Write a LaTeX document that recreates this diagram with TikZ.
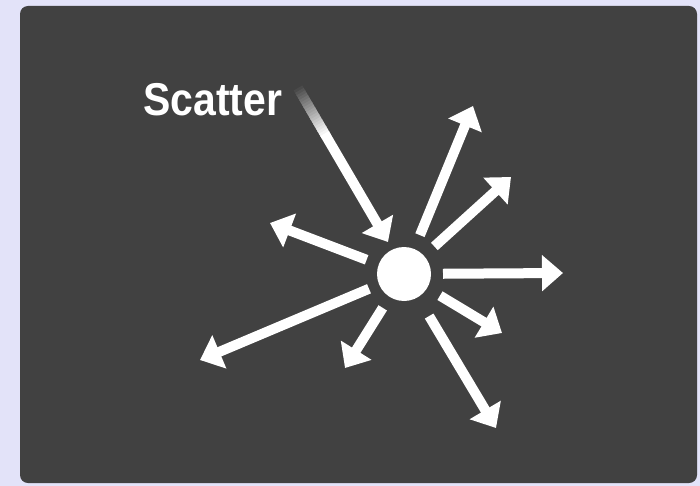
\documentclass[tikz,border=0pt]{standalone}
\usepackage{fontspec}
\setmainfont{Liberation Sans}
\usetikzlibrary{arrows.meta,calc}
\definecolor{bglav}{HTML}{E3E3F9}
\definecolor{panel}{HTML}{414141}
\tikzset{
  arr/.style={draw=white, line width=10pt, -{Triangle[width=35pt,length=21pt]}},
  fadeseg/.style={line width=10pt},
  dot/.style={circle, fill=white, inner sep=0pt, outer sep=0pt, minimum size=54pt},
  lbl/.style={text=white, inner sep=0pt, font=\fontsize{46}{46}\selectfont\bfseries}
}
\begin{document}
\begin{tikzpicture}[x=1pt,y=-1pt]
\fill[bglav] (0,0) rectangle (700,486);
\useasboundingbox (0,0) rectangle (700,486);
\fill[panel, rounded corners=8pt] (20,6) rectangle (697,483);
\node[dot] (c) at (404,274) {};
\node[lbl, anchor=base west, xscale=0.89] (scatter) at (143,116) {Scatter};
% incoming arrow with fading start
\coordinate (s) at (298,88);
\coordinate (m) at (326,136);
\coordinate (tin) at (388,242);
\foreach \i in {0,...,19}{
  \pgfmathsetmacro{\p}{5*(\i+1)}
  \pgfmathsetmacro{\a}{\i/20}
  \pgfmathsetmacro{\b}{(\i+1.3)/20}
  \draw[fadeseg, draw=white!\p!panel] ($(s)!\a!(m)$) -- ($(s)!\b!(m)$);
}
\draw[arr] (m) -- (tin);
% outgoing arrows
\coordinate (t2) at (473,106);
\coordinate (t3) at (511,177);
\coordinate (t4) at (563,273);
\coordinate (t5) at (270,223);
\coordinate (t6) at (200,360);
\coordinate (t7) at (345,368);
\coordinate (t8) at (502,333);
\coordinate (t9) at (496,428);
\draw[arr, shorten <=15pt] (c) -- (t2);
\draw[arr, shorten <=14pt] (c) -- (t3);
\draw[arr, shorten <=12pt] (c) -- (t4);
\draw[arr, shorten <=13pt] (c) -- (t5);
\draw[arr, shorten <=11pt] (c) -- (t6);
\draw[arr, shorten <=13pt] (c) -- (t7);
\draw[arr, shorten <=15pt] (c) -- (t8);
\draw[arr, shorten <=22pt] (c) -- (t9);
\end{tikzpicture}
\end{document}
